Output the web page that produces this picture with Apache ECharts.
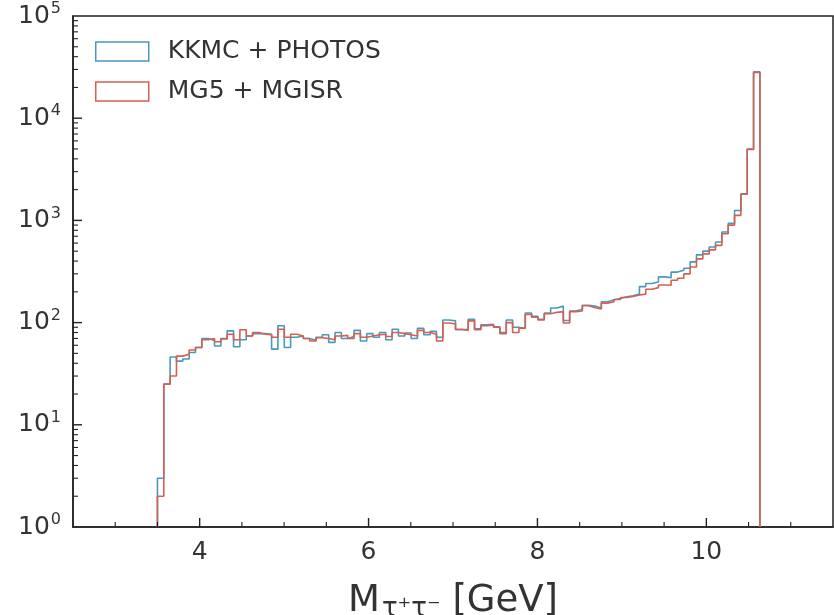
<!DOCTYPE html>
<html>
<head>
<meta charset="UTF-8">
<title>M tau tau</title>
<style>
  * { margin: 0; padding: 0; }
  html, body { width: 100%; height: 100%; background: #fff; }
  #container { width: 834px; height: 615px; }
</style>
</head>
<body>
<div id="container"></div>
<script src="https://cdn.jsdelivr.net/npm/echarts@6/dist/echarts.min.js"></script>
<script>
  // histogram bins: start edge and width (GeV)
  const binStart = 3.5;
  const binWidth = 0.0751;

  // KKMC + PHOTOS counts per bin
  const kkmc = [
    3, 25, 46, 42, 44, 51, 57, 70, 67, 59, 70, 83, 58, 68, 74, 78, 78, 77, 55, 93, 57, 72, 74, 70, 67, 72,
    76, 64, 80, 70, 73, 84, 66, 78, 72, 80, 68, 86, 74, 79, 70, 88, 76, 82, 72,
    106, 104, 85, 86, 108, 87, 95, 96, 91, 80, 106, 90, 88, 124, 115, 108, 124, 139, 145, 105, 130,
    135, 148, 145, 139, 160, 167, 172, 179, 183, 190, 225, 241, 250, 280, 275, 312, 325,
    340, 393, 460, 500, 550, 615, 770, 935, 1250, 1820, 5000, 28500
  ];

  // MG5 + MGISR counts per bin
  const mg5 = [
    2, 25, 30, 47, 49, 54, 57, 68, 70, 65, 69, 77, 68, 85, 74, 80, 77, 76, 72, 86, 72, 77, 74, 70, 66, 71,
    70, 68, 74, 75, 70, 78, 72, 74, 76, 77, 73, 80, 78, 76, 74, 84, 80, 77, 66,
    99, 97, 86, 84, 104, 85, 93, 95, 90, 78, 100, 80, 88, 120, 113, 106, 122, 126, 128, 99, 128,
    130, 146, 140, 136, 155, 160, 168, 176, 180, 186, 190, 212, 220, 233, 232, 260, 272,
    300, 350, 420, 470, 515, 570, 740, 900, 1120, 1800, 4950, 28000
  ];

  const seriesNames = ['KKMC + PHOTOS', 'MG5 + MGISR'];
  const xMin = 2.5;
  const xMax = 11.5;
  const xTicks = [4, 6, 8, 10];
  const xMinorTicks = [3, 3.5, 4.5, 5, 5.5, 6.5, 7, 7.5, 8.5, 9, 9.5, 10.5, 11];
  const yMin = 1;
  const yMax = 100000;
  const yTicks = [10, 100, 1000, 10000];
  const blue = '#4a98bd';
  const red = '#d4604f';

  // outline of a step histogram, closed down to the axis floor
  const stepPoints = (counts) => {
    const pts = [[binStart, yMin]];
    counts.forEach((v, i) => pts.push([binStart + i * binWidth, v]));
    const end = binStart + counts.length * binWidth;
    pts.push([end, counts[counts.length - 1]]);
    pts.push([end, yMin]);
    return pts;
  };

  // inward ticks: [x, y, length, isYAxis]
  const ticks = [];
  xTicks.forEach(v => ticks.push([v, yMin, 9, 0]));
  xMinorTicks.forEach(v => ticks.push([v, yMin, 5, 0]));
  yTicks.forEach(v => ticks.push([xMin, v, 9, 1]));
  for (let d = 1; d < yMax; d *= 10) {
    for (let k = 2; k <= 9; k++) ticks.push([xMin, k * d, 5, 1]);
  }

  const chart = echarts.init(document.getElementById('container'));
  const textColor = '#333';
  const font = 'DejaVu Sans';
  const tickColor = '#222';

  chart.setOption({
    animation: false,
    backgroundColor: '#fff',
    grid: {
      left: 73, right: 1, top: 16, bottom: 88,
      show: true, borderColor: tickColor, borderWidth: 1.5,
      backgroundColor: 'transparent',
      outerBoundsMode: 'none'
    },
    legend: {
      left: 90, top: 34, orient: 'vertical',
      itemWidth: 53, itemHeight: 19, itemGap: 15,
      textStyle: { fontSize: 25, color: textColor, fontFamily: font, padding: [0, 0, 0, 14] },
      lineStyle: { width: 0, opacity: 0 },
      data: [
        { name: seriesNames[0], icon: 'rect', itemStyle: { color: '#fff', borderColor: blue, borderWidth: 1.5 } },
        { name: seriesNames[1], icon: 'rect', itemStyle: { color: '#fff', borderColor: red, borderWidth: 1.5 } }
      ]
    },
    xAxis: {
      type: 'value', min: xMin, max: xMax, position: 'bottom',
      axisLine: { show: true, lineStyle: { color: tickColor, width: 1.5 } },
      axisTick: { show: false },
      axisLabel: { customValues: xTicks, fontSize: 25, color: textColor, fontFamily: font, margin: 13 },
      splitLine: { show: false },
      name: '{m|M}{s|τ⁺τ⁻}{m| [GeV]}',
      nameLocation: 'middle',
      nameGap: 53,
      nameTextStyle: {
        color: textColor, fontFamily: font,
        rich: {
          m: { fontSize: 37, color: textColor, fontFamily: font },
          s: { fontSize: 26, color: textColor, fontFamily: font, verticalAlign: 'bottom', padding: [16, 0, 0, 2] }
        }
      }
    },
    yAxis: {
      type: 'log', logBase: 10, min: yMin, max: yMax, position: 'left',
      axisLine: { show: true, lineStyle: { color: tickColor, width: 1.5 } },
      axisTick: { show: false },
      axisLabel: {
        margin: 12,
        formatter: (v) => '{b|10}{s|' + Math.round(Math.log10(v)) + '}',
        rich: {
          b: { fontSize: 25, color: textColor, fontFamily: font },
          s: { fontSize: 16, color: textColor, fontFamily: font, verticalAlign: 'top', padding: [0, 0, 14, 1] }
        }
      },
      splitLine: { show: false }
    },
    series: [
      {
        name: seriesNames[0], type: 'line', step: 'end', showSymbol: false,
        color: blue, lineStyle: { color: blue, width: 1.6 },
        data: stepPoints(kkmc)
      },
      {
        name: seriesNames[1], type: 'line', step: 'end', showSymbol: false,
        color: red, lineStyle: { color: red, width: 1.6 },
        data: stepPoints(mg5)
      },
      {
        // axis ticks, placed through the chart's own scales
        type: 'custom', silent: true, z: 5, clip: false,
        data: ticks,
        renderItem: (params, api) => {
          const p = api.coord([api.value(0), api.value(1)]);
          const len = api.value(2);
          const isY = api.value(3) === 1;
          return {
            type: 'line',
            shape: isY
              ? { x1: p[0], y1: p[1], x2: p[0] + len, y2: p[1] }
              : { x1: p[0], y1: p[1], x2: p[0], y2: p[1] - len },
            style: { stroke: tickColor, lineWidth: len > 6 ? 1.4 : 1.1 }
          };
        }
      }
    ]
  });
</script>
</body>
</html>
